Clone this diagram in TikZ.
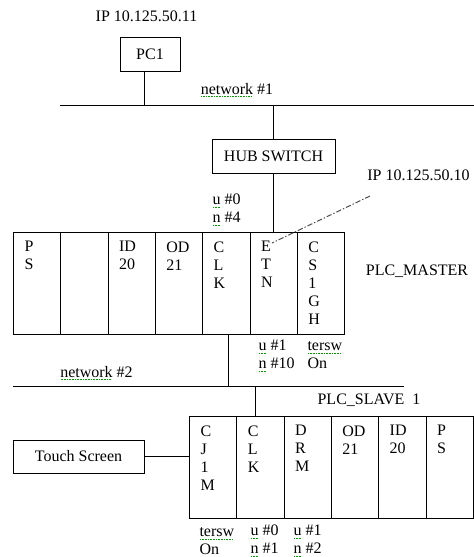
\documentclass[tikz,border=0pt]{standalone}
\usepackage{fontspec}
\setmainfont{Liberation Serif}
\usetikzlibrary{positioning}

\newcommand{\pu}{0.75pt}
\newcommand{\spell}[1]{\setbox0=\hbox{#1}\rlap{\color{green!60!black}\raisebox{-2.2pt}{\hbox to \wd0{\leaders\hbox to 1.2pt{\hss\rule{0.6pt}{0.6pt}\hss}\hfill}}}\box0\relax}

\tikzset{
  box/.style={draw, inner sep=0pt},
  slot/.style={draw, anchor=north west, minimum width=47.3*\pu, minimum height=102*\pu, inner sep=0pt},
  slottext/.style={anchor=north west, align=left, inner sep=0pt},
  lbl/.style={inner sep=0pt},
  twoline/.style={anchor=west, align=left, inner sep=0pt},
  dashdot/.style={draw=black!70, dash pattern=on 4pt off 1.5pt on 1pt off 1.5pt},
}

\begin{document}
\begin{tikzpicture}[x=\pu, y=-\pu, line width=0.75pt, font=\fontsize{12}{13.5}\selectfont]
    \useasboundingbox (0,0) rectangle (474,557);

    % PC a network #1
    \node[lbl] (ippc) at (146.5,16) {IP 10.125.50.11};
    \node[box, minimum width=60*\pu, minimum height=34*\pu] (pc1) at (150,54) {PC1};
    \coordinate (n1a) at (60,105);
    \coordinate (n1b) at (474,105);
    \coordinate (pc1tap) at (144,105);
    \draw (n1a) -- (n1b);
    \draw (pc1tap |- pc1.south) -- (pc1tap);
    \node[lbl] (net1) at (237,90) {\spell{network} \#1};

    % hub
    \node[box, minimum width=123*\pu, minimum height=34*\pu] (hub) at (273.5,156) {HUB SWITCH};
    \draw (hub.north |- n1a) -- (hub.north);

    % PLC_MASTER
    \foreach \t [count=\i] in {{P\\S},{},{ID\\20},{OD\\21},{C\\L\\K},{E\\T\\N},{C\\S\\1\\G\\H}} {
        \node[slot] (m\i) at (13+47.3*\i-47.3,232) {};
        \node[slottext] (mt\i) at ([xshift=11*\pu, yshift=-9*\pu]m\i.north west) {\t};
    }
    \draw (hub.south) -- (hub.south |- m6.north);
    \node[lbl] (master) at (417,271) {PLC\_MASTER};
    \node[lbl] (ipplc) at (418.5,175) {IP 10.125.50.10};
    \coordinate (ddtop) at (370,196);
    \coordinate (ddend) at (272,243);
    \draw[dashdot] (ddtop) -- (ddend);
    \node[twoline] (un04) at (212,210) {\spell{u} \#0\\\spell{n} \#4};
    \node[twoline] (un110) at (258,356) {\spell{u} \#1\\\spell{n} \#10};
    \node[twoline] (tsw1) at (307,355) {\spell{tersw}\\On};

    % network #2
    \coordinate (n2a) at (13,386);
    \coordinate (n2b) at (404,386);
    \coordinate (t2) at (228,386);
    \coordinate (t3) at (255,386);
    \draw (n2a) -- (n2b);
    \draw (t2 |- m5.south) -- (t2);
    \node[lbl] (net2) at (96.5,373) {\spell{network} \#2};

    % PLC_SLAVE 1
    \foreach \t [count=\i] in {{C\\J\\1\\M},{C\\L\\K},{D\\R\\M},{OD\\21},{ID\\20},{P\\S}} {
        \node[slot] (s\i) at (189+47.3*\i-47.3,416) {};
        \node[slottext] (st\i) at ([xshift=11*\pu, yshift=-9*\pu]s\i.north west) {\t};
    }
    \draw (t3) -- (t3 |- s2.north);
    \node[lbl] (slave) at (369,400) {PLC\_SLAVE\ \ 1};
    \node[box, minimum width=131*\pu, minimum height=33*\pu] (ts) at (78.5,456.5) {Touch Screen};
    \draw (ts.east) -- (ts.east -| s1.west);
    \node[twoline] (tsw2) at (199,541) {\spell{tersw}\\On};
    \node[twoline] (un01) at (250,541) {\spell{u} \#0\\\spell{n} \#1};
    \node[twoline] (un12) at (293,541) {\spell{u} \#1\\\spell{n} \#2};
\end{tikzpicture}
\end{document}
